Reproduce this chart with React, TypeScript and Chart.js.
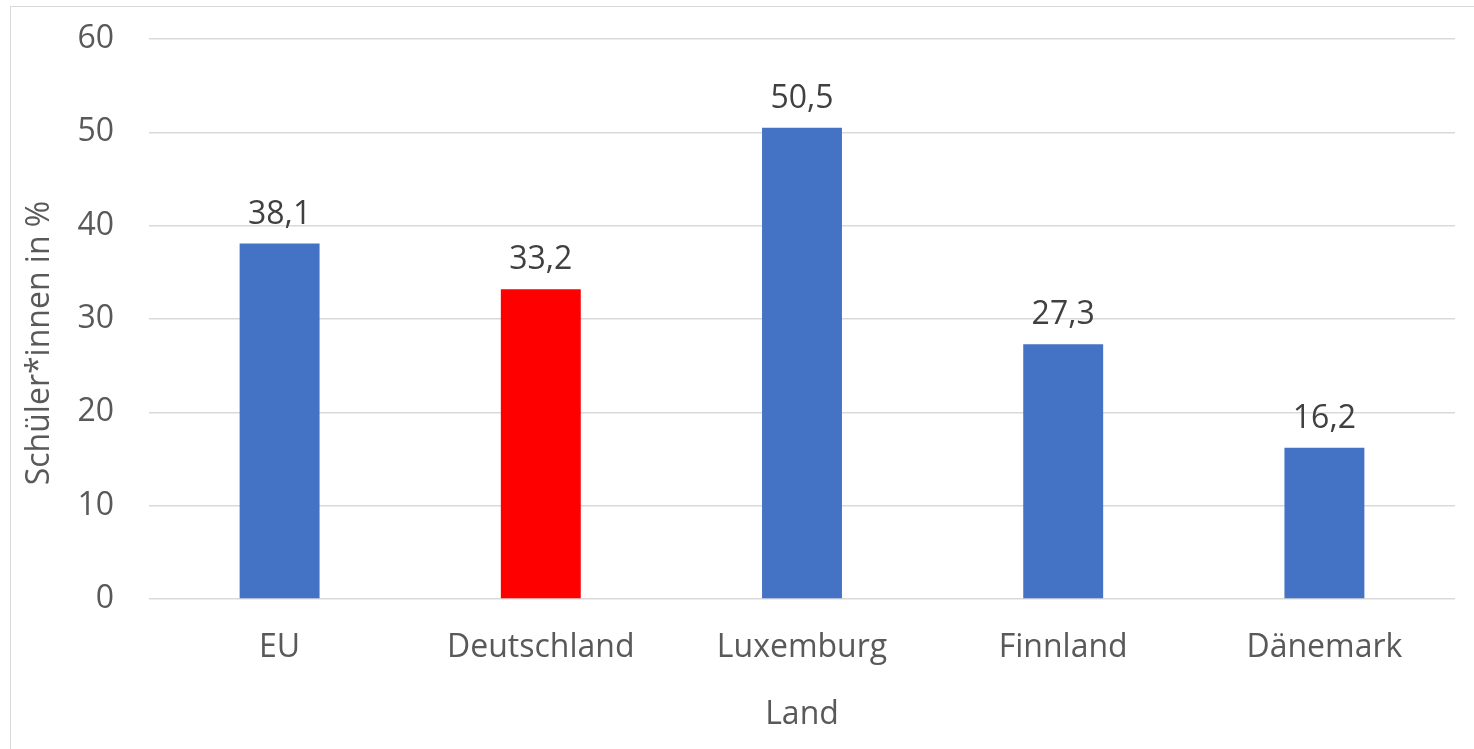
import React, { useEffect, useRef } from "react";
import { Chart, registerables } from "chart.js";

Chart.register(...registerables);

const categories = ["EU", "Deutschland", "Luxemburg", "Finnland", "Dänemark"];
const values = [38.1, 33.2, 50.5, 27.3, 16.2];
const barColors = ["#4472C4", "#FF0000", "#4472C4", "#4472C4", "#4472C4"];
const yMin = 0;
const yMax = 60;
const yStep = 10;
const yTitle = "Schüler*innen in %";
const xTitle = "Land";

const FONT = '"Open Sans", "Noto Sans", sans-serif';
const FS = 32;

const dataLabels = {
  id: "dataLabels",
  afterDatasetsDraw(chart: any) {
    const ctx = chart.ctx;
    const meta = chart.getDatasetMeta(0);
    ctx.save();
    ctx.font = `${FS}px ${FONT}`;
    ctx.fillStyle = "#404040";
    ctx.textAlign = "center";
    ctx.textBaseline = "middle";
    meta.data.forEach((bar: any, i: number) => {
      const txt = values[i].toFixed(1).replace(".", ",");
      ctx.fillText(txt, bar.x, bar.y - 29);
    });
    ctx.restore();
  },
};

export default function App() {
  const ref = useRef<HTMLCanvasElement>(null);

  useEffect(() => {
    if (!ref.current) return;
    const chart = new Chart(ref.current, {
      type: "bar",
      data: {
        labels: categories,
        datasets: [
          {
            data: values,
            backgroundColor: barColors,
            borderWidth: 0,
            barPercentage: 0.306,
            categoryPercentage: 1,
          },
        ],
      },
      options: {
        responsive: false,
        animation: false,
        devicePixelRatio: 1,
        layout: { padding: { top: 39, right: 19, left: 0, bottom: 0 } },
        plugins: {
          legend: { display: false },
          tooltip: { enabled: false },
        },
        scales: {
          x: {
            grid: { display: false, drawTicks: false },
            border: { display: false },
            ticks: {
              color: "#595959",
              font: { family: FONT, size: FS },
              padding: 30,
              maxRotation: 0,
            },
            title: {
              display: true,
              text: xTitle,
              color: "#595959",
              font: { family: FONT, size: FS },
              padding: { top: 0, bottom: 15 },
            },
            afterFit: (s: any) => {
              s.height = 150;
              s.paddingLeft = 0;
              s.paddingRight = 0;
            },
          },
          y: {
            min: yMin,
            max: yMax,
            grid: { color: "#d9d9d9", lineWidth: 1.5, drawTicks: false },
            border: { display: false },
            ticks: {
              stepSize: yStep,
              color: "#595959",
              font: { family: FONT, size: FS },
              padding: 35,
            },
            title: {
              display: true,
              text: yTitle + "\u2002\u2002\u2002",
              color: "#595959",
              font: { family: FONT, size: FS },
              padding: { top: 21, bottom: 0 },
            },
            afterFit: (s: any) => {
              s.width = 149;
              s.paddingTop = 0;
              s.paddingBottom = 0;
            },
          },
        },
      },
      plugins: [dataLabels],
    });
    return () => chart.destroy();
  }, []);

  return (
    <div
      style={{
        position: "absolute",
        left: 0,
        top: 0,
        width: 1474,
        height: 749,
        overflow: "hidden",
        background: "#ffffff",
      }}
    >
      <div
        style={{
          position: "absolute",
          left: 10,
          top: 6,
          width: 1480,
          height: 760,
          border: "1.5px solid #d9d9d9",
          boxSizing: "border-box",
        }}
      />
      <canvas
        ref={ref}
        width={1474}
        height={749}
        style={{ position: "absolute", left: 0, top: 0, width: 1474, height: 749 }}
      />
    </div>
  );
}
